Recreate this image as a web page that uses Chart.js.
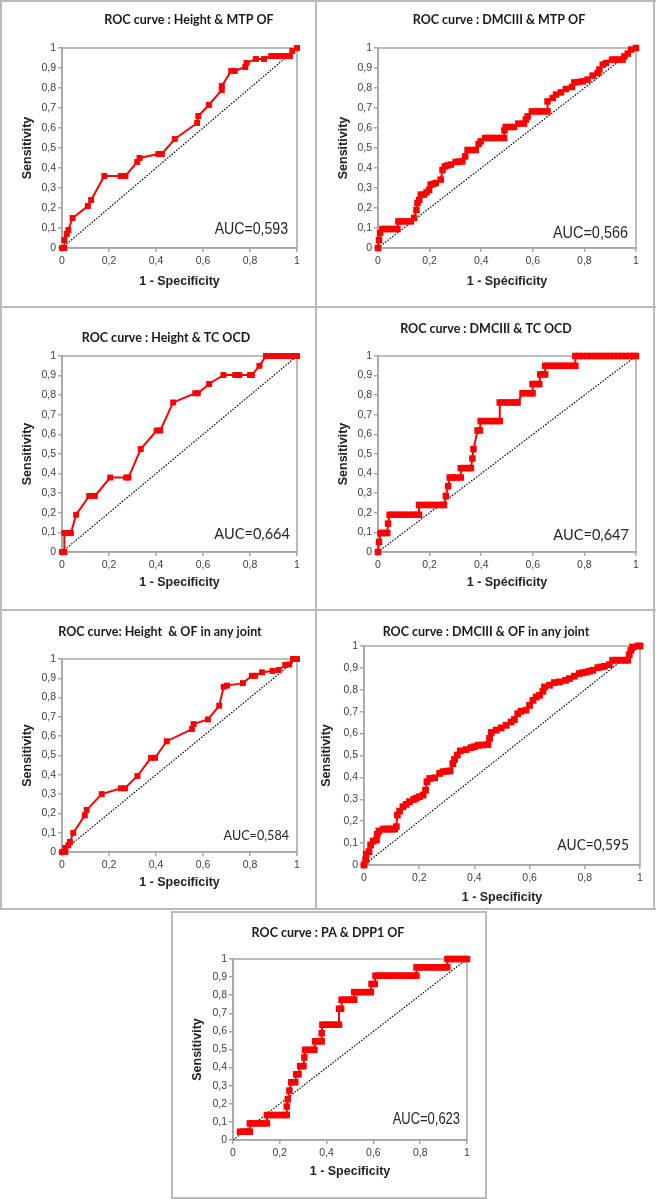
<!DOCTYPE html>
<html>
<head>
<meta charset="utf-8">
<script src="https://cdn.jsdelivr.net/npm/chart.js@4.4.1/dist/chart.umd.min.js"></script>
<style>
  body { margin: 0; background: #fff; width: 656px; height: 1199px; position: relative; overflow: hidden; }
  .rule { position: absolute; background: #bababa; }
  .box { position: absolute; border: 2px solid #bababa; box-sizing: border-box; }
  canvas { position: absolute; }
</style>
</head>
<body>
<!-- cell borders -->
<div class="rule" style="left:0;top:0;width:656px;height:2px"></div>
<div class="rule" style="left:0;top:306px;width:656px;height:2px"></div>
<div class="rule" style="left:0;top:609px;width:656px;height:2px"></div>
<div class="rule" style="left:0;top:908px;width:656px;height:2px"></div>
<div class="rule" style="left:0;top:0;width:2px;height:910px"></div>
<div class="rule" style="left:315px;top:0;width:2px;height:910px"></div>
<div class="rule" style="left:653px;top:0;width:2px;height:910px"></div>
<div class="box" style="left:171px;top:911px;width:316px;height:288px"></div>

<canvas id="c1" style="left:2px;top:2px" width="313" height="304"></canvas>
<canvas id="c2" style="left:317px;top:2px" width="336" height="304"></canvas>
<canvas id="c3" style="left:2px;top:308px" width="313" height="301"></canvas>
<canvas id="c4" style="left:317px;top:308px" width="336" height="301"></canvas>
<canvas id="c5" style="left:2px;top:611px" width="313" height="297"></canvas>
<canvas id="c6" style="left:317px;top:611px" width="336" height="297"></canvas>
<canvas id="c7" style="left:173px;top:913px" width="312" height="284"></canvas>

<script>
// --- DATA (1 - specificity, sensitivity) ---
const heightMtpPoints = [[0,0],[0.01,0],[0.01,0.04],[0.02,0.07],[0.027,0.09],[0.045,0.15],[0.11,0.21],[0.124,0.24],
  [0.18,0.36],[0.25,0.36],[0.27,0.36],[0.32,0.43],[0.33,0.45],[0.41,0.47],[0.425,0.47],[0.48,0.545],[0.575,0.625],
  [0.58,0.66],[0.625,0.715],[0.68,0.79],[0.68,0.81],[0.72,0.885],[0.735,0.885],[0.78,0.905],[0.785,0.925],
  [0.825,0.945],[0.86,0.945],[0.89,0.96],[0.91,0.96],[0.93,0.96],[0.95,0.96],[0.97,0.96],[0.98,0.985],[1,1]];

const dmcMtpPoints = [[0,0],[0.004,0.04],[0.008,0.075],[0.017,0.095],[0.03,0.095],[0.045,0.095],[0.06,0.095],[0.075,0.095],
  [0.079,0.133],[0.095,0.133],[0.11,0.133],[0.127,0.133],[0.14,0.15],[0.149,0.19],[0.153,0.225],[0.16,0.24],[0.166,0.267],
  [0.178,0.267],[0.188,0.278],[0.198,0.29],[0.204,0.317],[0.214,0.32],[0.224,0.325],[0.243,0.342],[0.25,0.39],[0.259,0.408],
  [0.27,0.413],[0.282,0.417],[0.301,0.43],[0.314,0.432],[0.327,0.433],[0.338,0.458],[0.347,0.49],[0.363,0.49],[0.379,0.49],
  [0.39,0.52],[0.398,0.533],[0.415,0.55],[0.43,0.55],[0.445,0.55],[0.46,0.55],[0.475,0.55],[0.489,0.55],[0.49,0.588],
  [0.495,0.605],[0.51,0.605],[0.527,0.605],[0.544,0.622],[0.566,0.622],[0.573,0.642],[0.58,0.658],[0.596,0.683],
  [0.61,0.683],[0.625,0.683],[0.64,0.683],[0.657,0.683],[0.657,0.733],[0.677,0.75],[0.69,0.767],[0.709,0.778],
  [0.728,0.795],[0.752,0.805],[0.761,0.828],[0.777,0.83],[0.793,0.833],[0.812,0.842],[0.832,0.862],[0.851,0.875],
  [0.858,0.892],[0.871,0.917],[0.884,0.925],[0.907,0.942],[0.92,0.942],[0.935,0.942],[0.948,0.942],[0.955,0.958],
  [0.968,0.972],[0.981,0.992],[1,1]];

const heightTcPoints = [[0,0],[0.01,0],[0.01,0.097],[0.024,0.097],[0.038,0.097],[0.06,0.19],[0.116,0.286],[0.14,0.286],
  [0.205,0.38],[0.273,0.38],[0.283,0.38],[0.335,0.525],[0.403,0.62],[0.418,0.62],[0.473,0.763],[0.567,0.81],[0.578,0.81],
  [0.626,0.857],[0.687,0.903],[0.737,0.903],[0.754,0.903],[0.8,0.903],[0.808,0.903],[0.84,0.95],[0.868,1],[0.893,1],
  [0.915,1],[0.936,1],[0.957,1],[0.979,1],[1,1]];

const dmcTcPoints = [[0,0],[0.004,0.051],[0.01,0.097],[0.022,0.097],[0.036,0.097],[0.039,0.145],[0.045,0.19],[0.06,0.19],
  [0.075,0.19],[0.09,0.19],[0.105,0.19],[0.12,0.19],[0.135,0.19],[0.15,0.19],[0.159,0.19],[0.159,0.24],[0.175,0.24],
  [0.19,0.24],[0.205,0.24],[0.22,0.24],[0.235,0.24],[0.25,0.24],[0.256,0.24],[0.263,0.286],[0.272,0.336],[0.278,0.38],
  [0.29,0.38],[0.305,0.38],[0.321,0.38],[0.321,0.428],[0.335,0.428],[0.35,0.428],[0.36,0.428],[0.366,0.477],[0.37,0.525],
  [0.386,0.62],[0.395,0.62],[0.398,0.668],[0.41,0.668],[0.425,0.668],[0.44,0.668],[0.455,0.668],[0.472,0.668],
  [0.472,0.763],[0.485,0.763],[0.5,0.763],[0.515,0.763],[0.53,0.763],[0.541,0.763],[0.56,0.81],[0.575,0.81],[0.59,0.81],
  [0.599,0.81],[0.599,0.857],[0.612,0.857],[0.625,0.857],[0.629,0.906],[0.64,0.906],[0.648,0.906],[0.648,0.95],
  [0.66,0.95],[0.675,0.95],[0.69,0.95],[0.705,0.95],[0.72,0.95],[0.735,0.95],[0.75,0.95],[0.765,0.95],[0.765,1],
  [0.78,1],[0.795,1],[0.81,1],[0.825,1],[0.84,1],[0.855,1],[0.87,1],[0.885,1],[0.9,1],[0.915,1],[0.93,1],[0.945,1],
  [0.96,1],[0.975,1],[0.99,1],[1,1]];

const heightAnyPoints = [[0,0],[0.014,0],[0.014,0.021],[0.027,0.035],[0.034,0.052],[0.048,0.099],[0.097,0.19],[0.105,0.218],
  [0.169,0.3],[0.251,0.33],[0.268,0.33],[0.321,0.394],[0.379,0.488],[0.396,0.488],[0.446,0.574],[0.553,0.637],[0.56,0.663],
  [0.621,0.687],[0.669,0.758],[0.688,0.856],[0.702,0.862],[0.77,0.875],[0.808,0.913],[0.822,0.913],[0.851,0.931],
  [0.896,0.938],[0.922,0.943],[0.95,0.969],[0.967,0.972],[0.983,1],[1,1]];

const dmcAnyPoints = [[0,0],[0.006,0.023],[0.008,0.049],[0.018,0.061],[0.024,0.091],[0.033,0.109],[0.045,0.114],[0.048,0.14],
  [0.054,0.155],[0.069,0.164],[0.08,0.164],[0.09,0.164],[0.1,0.164],[0.111,0.164],[0.117,0.175],[0.121,0.228],[0.129,0.246],
  [0.141,0.266],[0.153,0.277],[0.165,0.289],[0.18,0.299],[0.19,0.305],[0.201,0.312],[0.214,0.319],[0.223,0.342],
  [0.228,0.38],[0.238,0.395],[0.256,0.398],[0.274,0.418],[0.286,0.426],[0.3,0.428],[0.312,0.43],[0.322,0.463],
  [0.328,0.482],[0.338,0.502],[0.349,0.521],[0.37,0.527],[0.388,0.536],[0.4,0.54],[0.413,0.547],[0.43,0.548],
  [0.449,0.55],[0.455,0.578],[0.461,0.605],[0.479,0.616],[0.497,0.626],[0.515,0.638],[0.533,0.653],[0.545,0.664],
  [0.557,0.691],[0.569,0.702],[0.587,0.707],[0.6,0.729],[0.612,0.752],[0.624,0.767],[0.636,0.775],[0.648,0.793],
  [0.654,0.813],[0.672,0.821],[0.69,0.833],[0.708,0.836],[0.73,0.843],[0.744,0.851],[0.762,0.862],[0.78,0.874],
  [0.792,0.878],[0.805,0.881],[0.817,0.885],[0.829,0.889],[0.847,0.901],[0.859,0.904],[0.871,0.907],[0.889,0.915],
  [0.901,0.935],[0.915,0.935],[0.93,0.935],[0.945,0.935],[0.955,0.935],[0.961,0.96],[0.967,0.98],[0.973,0.995],
  [0.992,1],[1,1]];

const paDppPoints = [[0.03,0.046],[0.045,0.046],[0.06,0.046],[0.072,0.046],[0.072,0.092],[0.085,0.092],[0.1,0.092],
  [0.115,0.092],[0.13,0.092],[0.145,0.092],[0.145,0.138],[0.16,0.138],[0.175,0.138],[0.19,0.138],[0.205,0.138],
  [0.22,0.138],[0.23,0.138],[0.23,0.185],[0.234,0.225],[0.241,0.273],[0.249,0.319],[0.266,0.319],[0.27,0.363],
  [0.28,0.363],[0.287,0.408],[0.301,0.408],[0.305,0.456],[0.308,0.498],[0.32,0.498],[0.335,0.498],[0.348,0.498],
  [0.351,0.545],[0.365,0.545],[0.379,0.545],[0.379,0.59],[0.382,0.637],[0.395,0.637],[0.41,0.637],[0.425,0.637],
  [0.44,0.637],[0.453,0.637],[0.453,0.725],[0.462,0.725],[0.464,0.775],[0.478,0.775],[0.492,0.775],[0.506,0.775],
  [0.518,0.775],[0.518,0.817],[0.532,0.817],[0.546,0.817],[0.56,0.817],[0.575,0.817],[0.589,0.817],[0.592,0.862],
  [0.606,0.862],[0.609,0.908],[0.623,0.908],[0.637,0.908],[0.651,0.908],[0.665,0.908],[0.68,0.908],[0.695,0.908],
  [0.71,0.908],[0.725,0.908],[0.74,0.908],[0.755,0.908],[0.77,0.908],[0.784,0.908],[0.784,0.954],[0.8,0.954],
  [0.815,0.954],[0.83,0.954],[0.845,0.954],[0.86,0.954],[0.875,0.954],[0.89,0.954],[0.905,0.954],[0.916,0.954],
  [0.916,1],[0.93,1],[0.945,1],[0.96,1],[0.975,1],[0.99,1],[1,1]];

const chanceLine = [[0,0],[1,1]];

const chartTitles = ['ROC curve : Height & MTP OF', 'ROC curve : DMCIII & MTP OF', 'ROC curve : Height & TC OCD',
  'ROC curve : DMCIII & TC OCD', 'ROC curve: Height  & OF in any joint', 'ROC curve : DMCIII & OF in any joint',
  'ROC curve : PA & DPP1 OF'];
const aucLabels = ['AUC=0,593', 'AUC=0,566', 'AUC=0,664', 'AUC=0,647', 'AUC=0,584', 'AUC=0,595', 'AUC=0,623'];
const xAxisTitles = ['1 - Specificity', '1 - Spécificity', '1 - Specificity', '1 - Spécificity',
  '1 - Specificity', '1 - Specificity', '1 - Specificity'];
const yAxisTitle = 'Sensitivity';
const seriesList = [heightMtpPoints, dmcMtpPoints, heightTcPoints, dmcTcPoints, heightAnyPoints, dmcAnyPoints, paDppPoints];

// --- LAYOUT (canvas-relative) ---
const ARIAL = '"Liberation Sans", Arial, sans-serif';
const SOFT = 'Lato, "Open Sans", sans-serif';
// aF = AUC font, aS = horizontal squeeze (no narrow font installed)
const panels = [
  { id: 'c1', yW: 60, xH: 58, top: 46, right: 18, yT: 26, xT: 24, tX: 187, tY: 18, aR: 286, aY: 227, aF: '17px ' + ARIAL, aS: 0.83, r: 4.2 },
  { id: 'c2', yW: 61, xH: 58, top: 46, right: 17, yT: 27, xT: 24, tX: 182, tY: 18, aR: 311, aY: 231, aF: '17px ' + ARIAL, aS: 0.85, r: 4.6 },
  { id: 'c3', yW: 60, xH: 57, top: 48, right: 18, yT: 26, xT: 26, tX: 164, tY: 30, aR: 288, aY: 226, aF: '15.5px ' + SOFT, aS: 0.94, r: 4.2 },
  { id: 'c4', yW: 61, xH: 57, top: 48, right: 17, yT: 27, xT: 26, tX: 169, tY: 21, aR: 312, aY: 227, aF: '15.5px ' + SOFT, aS: 0.94, r: 4.6 },
  { id: 'c5', yW: 60, xH: 56, top: 48, right: 18, yT: 26, xT: 25, tX: 158, tY: 21, aR: 287, aY: 224, aF: '14px ' + SOFT, aS: 0.9, r: 4.2 },
  { id: 'c6', yW: 47, xH: 43, top: 35, right: 13, yT: 10, xT: 10, tX: 169, tY: 21, aR: 312, aY: 234, aF: '15px ' + SOFT, aS: 0.92, r: 4.8 },
  { id: 'c7', yW: 60, xH: 57, top: 46, right: 18, yT: 25, xT: 25, tX: 155, tY: 20, aR: 287, aY: 207, aF: '16px ' + ARIAL, aS: 0.81, r: 4.6 }
];

const AXIS_GREY = '#a6a6a6';
const fmt = (v) => String(Math.round(v * 10) / 10).replace('.', ',');

// frame round the plot area + title and AUC text
const panelText = {
  id: 'panelText',
  beforeDatasetsDraw(chart) {
    const a = chart.chartArea, ctx = chart.ctx;
    ctx.save();
    ctx.strokeStyle = AXIS_GREY;
    ctx.lineWidth = 1.5;
    ctx.strokeRect(a.left, a.top, a.right - a.left, a.bottom - a.top);
    ctx.restore();
  },
  afterDraw(chart, args, opts) {
    const ctx = chart.ctx;
    ctx.save();
    ctx.textBaseline = 'middle';
    ctx.fillStyle = '#1a1a1a';
    ctx.font = 'bold 12.5px ' + SOFT;
    ctx.textAlign = 'center';
    ctx.fillText(opts.title, opts.tX, opts.tY);
    ctx.fillStyle = '#262626';
    ctx.font = opts.aF;
    ctx.textAlign = 'right';
    ctx.translate(opts.aR, opts.aY);
    ctx.scale(opts.aS, 1);
    ctx.fillText(opts.auc, 0, 0);
    ctx.restore();
  }
};

const axisTitleFont = { family: ARIAL, size: 12.5, weight: 'bold' };
const tickFont = { family: ARIAL, size: 10.5 };

panels.forEach((p, i) => {
  const points = seriesList[i];
  new Chart(document.getElementById(p.id), {
    type: 'scatter',
    data: {
      datasets: [{
        data: points.map(([x, y]) => ({ x, y })),
        showLine: true,
        borderColor: '#ff0000',
        borderWidth: 2,
        backgroundColor: '#ff0000',
        pointStyle: 'rect',
        pointRadius: p.r,
        pointBorderWidth: 0,
        clip: false,
        order: 1
      }, {
        data: chanceLine.map(([x, y]) => ({ x, y })),
        showLine: true,
        borderColor: '#000',
        borderWidth: 1.2,
        borderDash: [1.5, 1.5],
        pointRadius: 0,
        order: 2
      }]
    },
    options: {
      responsive: false,
      animation: false,
      layout: { padding: { top: p.top, right: p.right, left: 0, bottom: 0 } },
      plugins: {
        legend: { display: false },
        tooltip: { enabled: false },
        panelText: { title: chartTitles[i], auc: aucLabels[i], tX: p.tX, tY: p.tY, aR: p.aR, aY: p.aY, aF: p.aF, aS: p.aS }
      },
      scales: {
        x: {
          type: 'linear', min: 0, max: 1,
          afterFit: (s) => { s.height = p.xH; },
          ticks: { stepSize: 0.2, padding: 3, color: '#404040', font: tickFont, callback: fmt, autoSkip: false, maxRotation: 0 },
          grid: { drawOnChartArea: false, tickLength: 4, color: AXIS_GREY, lineWidth: 1.5 },
          border: { color: AXIS_GREY, width: 1.5 },
          title: { display: true, text: xAxisTitles[i], color: '#222', font: axisTitleFont, padding: { top: 0, bottom: p.xT - 7.5 } }
        },
        y: {
          type: 'linear', min: 0, max: 1,
          afterFit: (s) => { s.width = p.yW; },
          ticks: { stepSize: 0.1, padding: 2, color: '#404040', font: tickFont, callback: fmt, autoSkip: false },
          grid: { drawOnChartArea: false, tickLength: 4, color: AXIS_GREY, lineWidth: 1.5 },
          border: { color: AXIS_GREY, width: 1.5 },
          title: { display: true, text: yAxisTitle, color: '#222', font: axisTitleFont, padding: { top: p.yT - 7.5, bottom: 0 } }
        }
      }
    },
    plugins: [panelText]
  });
});
</script>
</body>
</html>
